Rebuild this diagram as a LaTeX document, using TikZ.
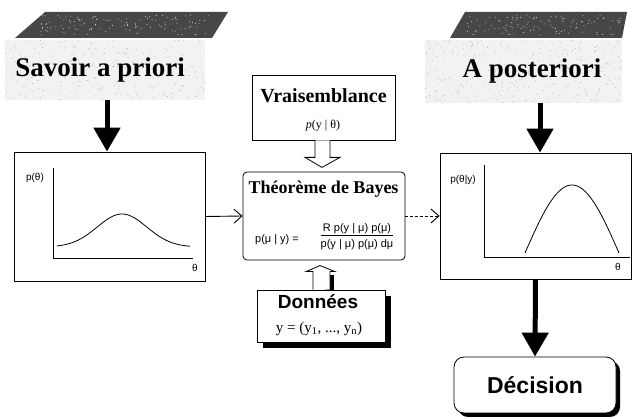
\documentclass[tikz,border=0pt]{standalone}
\usepackage{fontspec}
\setmainfont{Liberation Serif}[BoldFont={Liberation Serif Bold},ItalicFont={Liberation Serif Italic}]
\setsansfont{Liberation Sans}[BoldFont={Liberation Sans Bold}]
\usetikzlibrary{arrows.meta,shadows,calc}
\begin{document}
\begin{tikzpicture}[x=1pt,y=-1pt,
  boxline/.style={draw, line width=0.8pt, inner sep=0pt},
  thinarrow/.style={line width=0.9pt, -{Straight Barb[length=8pt,width=14pt]}},
  thickarrow/.style={line width=5pt, -{Triangle[length=24pt,width=26pt]}},
  hollow/.style={draw, line width=0.8pt, fill=white},
  header/.style={font=\rmfamily\bfseries\fontsize{27}{30}\selectfont, inner sep=0pt},
  darkband/.style={fill=black!72},
  formula/.style={font=\sffamily\fontsize{11}{13}\selectfont}
]
\useasboundingbox (0,0) rectangle (632,419);

% ---- header left
\fill[gray!10] (5,40) rectangle (205,100);
\pgfmathsetseed{7}
\foreach \i in {1,...,260}{\fill[gray!70] ({5+200*rnd},{40+60*rnd}) circle (0.45);}
\fill[darkband] (15,38) -- (45,12) -- (228,12) -- (212,38) -- cycle;
\pgfmathsetseed{11}
\foreach \i in {1,...,120}{\fill[white!70!gray] ({40+170*rnd},{15+20*rnd}) circle (0.5);}
\node[header, minimum width=200, minimum height=60] (prior) at (100,70) {Savoir a priori};

% ---- header right
\fill[gray!10] (425,40) rectangle (622,103);
\pgfmathsetseed{5}
\foreach \i in {1,...,300}{\fill[gray!70] ({425+197*rnd},{40+63*rnd}) circle (0.45);}
\fill[darkband] (450,38) -- (465,12) -- (627,12) -- (622,38) -- cycle;
\pgfmathsetseed{13}
\foreach \i in {1,...,110}{\fill[white!70!gray] ({465+155*rnd},{15+20*rnd}) circle (0.5);}
\node[header, minimum width=197, minimum height=63] (post) at (532,71.5) {A posteriori};

% ---- prior plot box
\node[boxline, minimum width=191, minimum height=129] (lbox) at (109.5,216.5) {};
\draw[line width=0.8pt] (53,168) -- (53,258) -- (193,258);
\draw[line width=0.8pt, domain=57:190, samples=80, smooth] plot (\x,{247-33*exp(-((\x-122)/35)^2)});
\node[font=\sffamily\fontsize{10}{12}\selectfont] (lp) at (35,178) {p(θ)};
\node[font=\sffamily\fontsize{10}{12}\selectfont] (lt) at (195,268) {θ};

% ---- posterior plot box
\node[boxline, minimum width=191, minimum height=126] (rbox) at (535.5,216) {};
\draw[line width=0.8pt] (484,165) -- (484,257) -- (630,257);
\draw[line width=0.8pt, domain=525:619, samples=80, smooth] plot (\x,{253-68*cos(90*(\x-572)/47)});
\node[font=\sffamily\fontsize{10}{12}\selectfont] (rp) at (463,180) {p(θ|y)};
\node[font=\sffamily\fontsize{10}{12}\selectfont] (rt) at (618,267) {θ};

% ---- Vraisemblance
\node[boxline, minimum width=143, minimum height=65] (vrai) at (323.5,107.5) {};
\node[font=\rmfamily\bfseries\fontsize{20}{22}\selectfont] (vt) at (323.5,96) {Vraisemblance};
\node[font=\rmfamily\fontsize{12}{14}\selectfont] (vp) at (323,126) {\itshape p\upshape(y | θ)};

% ---- Bayes
\node[boxline, rounded corners=4pt, minimum width=162, minimum height=88] (bayes) at (324,216) {};
\node[font=\rmfamily\bfseries\fontsize{18}{20}\selectfont] (bt) at (323.5,189) {Théorème de Bayes};
\node[formula, inner sep=1pt] (lhs) at (277,240) {p(μ | y) =};
\node[formula, inner sep=0pt] (frac) at (357,237)
  {\begin{tabular}{@{}c@{}}R p(y | μ) p(μ)\\[0pt]\hline\rule{0pt}{12pt}p(y | μ) p(μ) dμ\end{tabular}};

% ---- Données
\node[boxline, fill=white, minimum width=128, minimum height=52,
  drop shadow={shadow xshift=6pt, shadow yshift=-6pt, fill=black, opacity=1}] (don) at (321,316) {};
\node[font=\sffamily\bfseries\fontsize{19}{21}\selectfont] (dt) at (318,302) {Données};
\node[font=\rmfamily\fontsize{15}{17}\selectfont] (dy) at (319,329) {y = (y\textsubscript{1}, ..., y\textsubscript{n})};

% ---- Décision
\node[boxline, rounded corners=10pt, fill=white, minimum width=162, minimum height=56,
  drop shadow={shadow xshift=4pt, shadow yshift=-4pt, fill=black, opacity=1},
  font=\sffamily\bfseries\fontsize{23}{26}\selectfont] (dec) at (535,385) {Décision};

% ---- hollow arrows
\draw[hollow] ($(vrai.south)+(-8.5,0)$) -- ($(vrai.south)+(-8.5,17)$) -- ($(vrai.south)+(-18.5,17)$)
  -- ($(vrai.south)+(-1.5,27)$) -- ($(vrai.south)+(16.5,17)$) -- ($(vrai.south)+(6.5,17)$)
  -- ($(vrai.south)+(6.5,0)$);
\fill[black] ($(don.north)+(4,0)$) -- ($(don.north)+(4,-15)$) -- ($(don.north)+(13,-15)$) -- ($(don.north)+(13,0)$) -- cycle;
\draw[hollow] ($(don.north)+(-8,0)$) -- ($(don.north)+(-8,-18)$) -- ($(don.north)+(-15,-18)$)
  -- ($(don.north)+(-1,-24)$) -- ($(don.north)+(14,-18)$) -- ($(don.north)+(9,-18)$)
  -- ($(don.north)+(9,0)$);

% ---- connectors
\draw[thinarrow] (lbox.east) -- (bayes.west);
\draw[thinarrow, densely dashed] (bayes.east) -- (bayes.east -| rbox.west);
\draw[thickarrow] ([xshift=7pt]prior.south) -- ([xshift=7pt]prior.south |- lbox.north);
\draw[thickarrow] ([xshift=8pt]post.south) -- ([xshift=8pt]post.south |- rbox.north);
\draw[thickarrow] (rbox.south) -- (dec.north);
\end{tikzpicture}
\end{document}
